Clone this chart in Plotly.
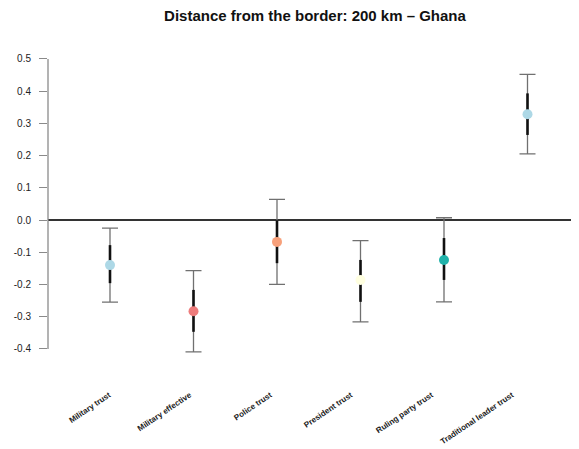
import plotly.graph_objects as go

# ---- data ----
categories = ["Military trust", "Military effective", "Police trust",
              "President trust", "Ruling party trust", "Traditional leader trust"]
estimate = [-0.140, -0.283, -0.068, -0.186, -0.124, 0.328]
ci95_low = [-0.255, -0.409, -0.200, -0.316, -0.254, 0.205]
ci95_high = [-0.025, -0.157, 0.064, -0.064, 0.007, 0.452]
ci_inner_low = [-0.196, -0.347, -0.134, -0.254, -0.186, 0.264]
ci_inner_high = [-0.078, -0.217, -0.001, -0.124, -0.056, 0.393]
point_colors = ["#ADD8E6", "#EE7C7C", "#F7A07A", "#FFFFE0", "#20B2AA", "#ADD8E6"]
y_tickvals = [-0.4, -0.3, -0.2, -0.1, 0.0, 0.1, 0.2, 0.3, 0.4, 0.5]
y_ticktext = ["-0.4", "-0.3", "-0.2", "-0.1", "0.0", "0.1", "0.2", "0.3", "0.4", "0.5"]
title_text = "Distance from the border: 200 km \u2013 Ghana"

# ---- layout geometry (page body has an 8px margin) ----
OFF = 8
W, H = 579 - OFF, 449 - OFF
L, R, T = 48 - OFF, 0, 30 - OFF
plot_bottom = 388 - OFF
B = H - plot_bottom
zero_px = 220 - OFF
px_per_unit = 322.2
y_top = (zero_px - T) / px_per_unit
y_bot = -(plot_bottom - zero_px) / px_per_unit
first_px = 110 - OFF
step_px = 83.5
x_left = -(first_px - L) / step_px
x_right = (W - R - first_px) / step_px
# category labels are spaced slightly tighter than the points
label_first_px = 109 - OFF
label_step_px = 80.6
x2_left = -(label_first_px - L) / label_step_px
x2_right = (W - R - label_first_px) / label_step_px

xs = list(range(len(categories)))

fig = go.Figure()

# thin 95% whiskers with caps
fig.add_trace(go.Scatter(
    x=xs, y=estimate, mode="markers",
    marker=dict(size=1, opacity=0),
    error_y=dict(type="data", symmetric=False,
                 array=[h - e for h, e in zip(ci95_high, estimate)],
                 arrayminus=[e - l for e, l in zip(estimate, ci95_low)],
                 color="#707070", thickness=1.3, width=8),
    hoverinfo="skip", showlegend=False))

# thick inner interval
fig.add_trace(go.Scatter(
    x=xs, y=estimate, mode="markers",
    marker=dict(size=1, opacity=0),
    error_y=dict(type="data", symmetric=False,
                 array=[h - e for h, e in zip(ci_inner_high, estimate)],
                 arrayminus=[e - l for e, l in zip(estimate, ci_inner_low)],
                 color="#111111", thickness=2.6, width=0),
    hoverinfo="skip", showlegend=False))

# point estimates
fig.add_trace(go.Scatter(
    x=xs, y=estimate, mode="markers",
    marker=dict(size=10, color=point_colors, line=dict(width=0)),
    showlegend=False))

# invisible trace carrying the category-label axis
fig.add_trace(go.Scatter(
    x=xs, y=estimate, xaxis="x2", mode="markers",
    marker=dict(size=1, opacity=0), hoverinfo="skip", showlegend=False))

# y axis line spanning tick range
fig.add_shape(type="line", xref="paper", yref="y",
              x0=0, x1=0, y0=min(y_tickvals), y1=max(y_tickvals),
              line=dict(color="#8A8A8A", width=1.3))

fig.update_layout(
    width=W, height=H,
    margin=dict(l=L, r=R, t=T, b=B),
    paper_bgcolor="white", plot_bgcolor="white",
    font=dict(family="Liberation Sans, Arial, sans-serif", color="#333333"),
    title=dict(text="<b>" + title_text + "</b>", x=(315 - OFF) / W, xref="container",
               xanchor="center", y=1.0 - 2 / H, yref="container", yanchor="top",
               pad=dict(t=0, b=0, l=0, r=0),
               font=dict(size=15, color="#111111")),
    xaxis=dict(range=[x_left, x_right], showticklabels=False, ticks="",
               showline=False, showgrid=False, zeroline=False),
    xaxis2=dict(range=[x2_left, x2_right], overlaying="x", side="bottom",
                tickvals=xs, ticktext=["<b>" + c + "</b>" for c in categories],
                tickangle=-34, ticks="", showline=False, showgrid=False,
                zeroline=False, tickfont=dict(size=8, color="#222222")),
    yaxis=dict(range=[y_bot, y_top], tickvals=y_tickvals, ticktext=y_ticktext,
               ticks="outside", ticklen=8, tickwidth=1.2, tickcolor="#8A8A8A",
               ticklabelstandoff=6,
               showline=False, showgrid=False,
               zeroline=True, zerolinecolor="#333333", zerolinewidth=2,
               tickfont=dict(size=10, color="#222222")),
)

fig.write_html("out.html")
